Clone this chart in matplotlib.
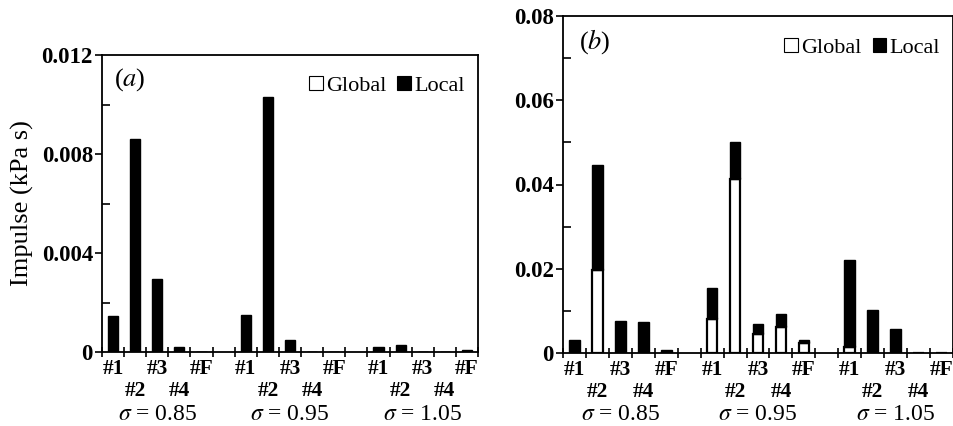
import numpy as np
import matplotlib
matplotlib.use("Agg")
import matplotlib.pyplot as plt
from matplotlib.patches import Patch
from matplotlib.ticker import FixedLocator, FixedFormatter, NullFormatter

plt.rcParams['font.family'] = ['Liberation Serif', 'DejaVu Serif']
plt.rcParams['mathtext.fontset'] = 'stix'

# ---------------- data ----------------
sensors = ["#1", "#2", "#3", "#4", "#F"]
groups = [r"$\sigma$ = 0.85", r"$\sigma$ = 0.95", r"$\sigma$ = 1.05"]

# panel (a): local impulse only (global is zero)
a_global = [0, 0, 0, 0, 0,  0, 0, 0, 0, 0,  0, 0, 0, 0, 0]
a_local = [0.00145, 0.0086, 0.00295, 0.0002, 0.0,
           0.0015, 0.0103, 0.0005, 0.0, 0.0,
           0.0002, 0.0003, 0.0, 0.0, 0.00008]

# panel (b): global + local (stacked)
b_global = [0.0, 0.0197, 0.0, 0.0, 0.0,
            0.0081, 0.0413, 0.0045, 0.0061, 0.0024,
            0.0015, 0.0, 0.0, 0.0, 0.0]
b_local = [0.0031, 0.0250, 0.0076, 0.0074, 0.0006,
           0.0073, 0.0087, 0.0025, 0.0031, 0.0006,
           0.0206, 0.0103, 0.0058, 0.0, 0.0]

a_yticks = [0, 0.004, 0.008, 0.012]
a_yticklabels = ["0", "0.004", "0.008", "0.012"]
b_yticks = [0, 0.02, 0.04, 0.06, 0.08]
b_yticklabels = ["0", "0.02", "0.04", "0.06", "0.08"]

# ---------------- figure ----------------
W, H = 954, 426
fig = plt.figure(figsize=(W / 100, H / 100), dpi=100)

def px_axes(l, r, t, b):
    return fig.add_axes([l / W, 1 - b / H, (r - l) / W, (b - t) / H])

ax_a = px_axes(102, 478, 55, 352)
ax_b = px_axes(563, 953, 16, 353)

# x positions: 5 bars per group, one empty slot between groups
xpos = []
for g in range(len(groups)):
    for s in range(len(sensors)):
        xpos.append(g * (len(sensors) + 1) + s)
xpos = np.array(xpos)
bw = 0.46

def style_axes(ax, yticks, yticklabels, ymax, minor_step, label, lx, ly):
    ax.set_xlim(-0.5, xpos[-1] + 0.5)
    ax.set_ylim(0, ymax)
    for sp in ax.spines.values():
        sp.set_linewidth(1.3)
    # y ticks
    ax.yaxis.set_major_locator(FixedLocator(yticks))
    ax.yaxis.set_major_formatter(FixedFormatter(yticklabels))
    ax.yaxis.set_minor_locator(FixedLocator(np.arange(0, ymax + 1e-9, minor_step)))
    ax.tick_params(axis='y', which='major', direction='out', length=5, width=1.2,
                   labelsize=16.5, pad=1.5)
    ax.tick_params(axis='y', which='minor', direction='in', length=6, width=1.2)
    for t in ax.get_yticklabels():
        t.set_fontweight('bold')
    # x ticks at slot boundaries
    bounds = np.arange(-0.5, xpos[-1] + 1.0, 1.0)
    ax.xaxis.set_major_locator(FixedLocator(bounds))
    ax.xaxis.set_major_formatter(NullFormatter())
    ax.tick_params(axis='x', which='major', direction='inout', length=7, width=1.2)
    # sensor labels
    for i, x in enumerate(xpos):
        s = sensors[i % len(sensors)]
        row = (i % len(sensors)) % 2
        off = -17 if row == 0 else -39
        ax.annotate(s, xy=(x, 0), xycoords=('data', 'axes fraction'),
                    xytext=(0, off), textcoords='offset pixels',
                    ha='center', va='center', fontsize=15.5, fontweight='bold')
    for g, gl in enumerate(groups):
        xc = g * (len(sensors) + 1) + 2
        ax.annotate(gl, xy=(xc, 0), xycoords=('data', 'axes fraction'),
                    xytext=(0, -62), textcoords='offset pixels',
                    ha='center', va='center', fontsize=17)
    ax.text(lx, ly, label, transform=ax.transAxes, ha='center', va='center',
            fontsize=19)
    handles = [Patch(facecolor='white', edgecolor='black', linewidth=0.8, label='Global'),
               Patch(facecolor='black', edgecolor='black', linewidth=0.8, label='Local')]
    ax.legend(handles=handles, loc='upper right', ncol=2, frameon=False,
              fontsize=16, handlelength=0.6, handleheight=0.6,
              handletextpad=0.15, columnspacing=0.5, borderaxespad=0.2,
              bbox_to_anchor=(1.0, 0.975))

# panel (a)
ax_a.bar(xpos, a_global, width=bw, color='white', edgecolor='black', linewidth=1.0)
ax_a.bar(xpos, a_local, width=bw, bottom=a_global, color='black', edgecolor='black',
         linewidth=1.0)
style_axes(ax_a, a_yticks, a_yticklabels, 0.012, 0.002, r"($\mathit{a}$)", 0.074, 0.916)

# panel (b)
ax_b.bar(xpos, b_global, width=bw, color='white', edgecolor='black', linewidth=1.6)
ax_b.bar(xpos, b_local, width=bw, bottom=b_global, color='black', edgecolor='black',
         linewidth=1.0)
style_axes(ax_b, b_yticks, b_yticklabels, 0.08, 0.01, r"($\mathit{b}$)", 0.082, 0.923)

fig.text(22 / W, 1 - 203 / H, "Impulse (kPa s)", rotation=90, ha='center',
         va='center', fontsize=19)

fig.savefig("out.png", dpi=100)
